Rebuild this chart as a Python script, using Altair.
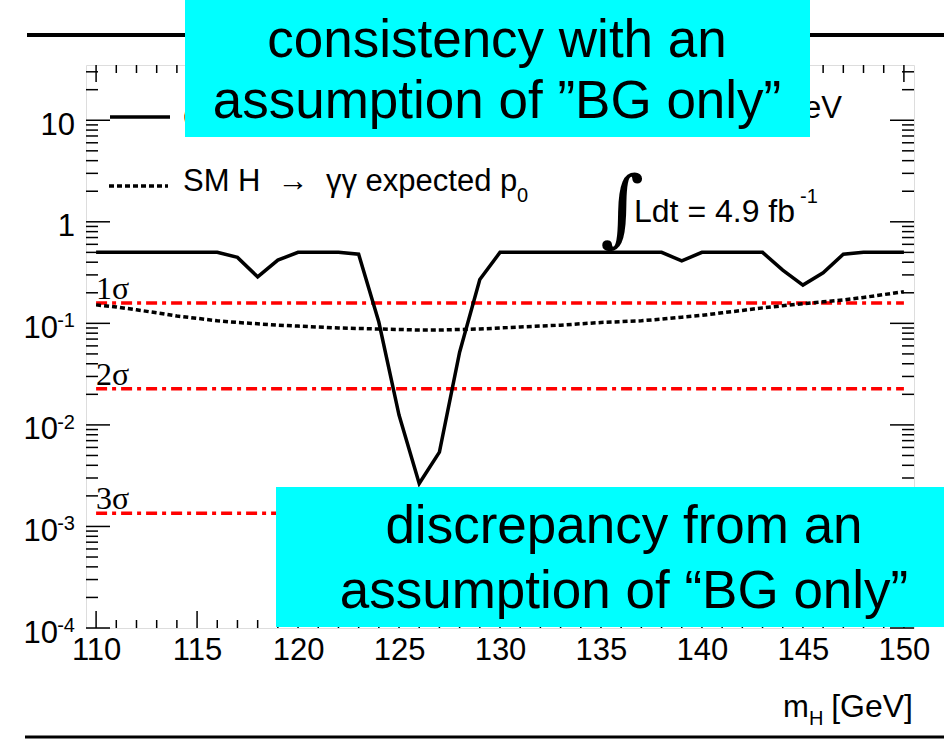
import altair as alt
import pandas as pd

# ---------------- data ----------------
mass = [110, 111, 112, 113, 114, 115, 116, 117, 118, 119, 120, 121, 122, 123, 124, 125,
        126, 127, 128, 129, 130, 131, 132, 133, 134, 135, 136, 137, 138, 139, 140, 141,
        142, 143, 144, 145, 146, 147, 148, 149, 150]
observed_p0 = [0.5, 0.5, 0.5, 0.5, 0.5, 0.5, 0.5, 0.446, 0.287, 0.42, 0.5, 0.5, 0.5, 0.48,
               0.103, 0.0125, 0.00265, 0.0054, 0.052, 0.27, 0.5, 0.5, 0.5, 0.5, 0.5, 0.5,
               0.5, 0.5, 0.5, 0.413, 0.5, 0.5, 0.5, 0.5, 0.334, 0.238, 0.315, 0.48, 0.5,
               0.5, 0.5]
expected_p0 = [0.152, 0.145, 0.136, 0.127, 0.118, 0.112, 0.106, 0.102, 0.099, 0.096, 0.094,
               0.092, 0.090, 0.089, 0.088, 0.087, 0.086, 0.086, 0.087, 0.088, 0.090, 0.092,
               0.094, 0.096, 0.099, 0.102, 0.104, 0.106, 0.110, 0.115, 0.120, 0.127, 0.134,
               0.142, 0.149, 0.156, 0.163, 0.170, 0.180, 0.192, 0.205]

sigma_levels = [0.1587, 0.02275, 0.00135]
sigma_labels = ["1σ", "2σ", "3σ"]
sigma_start = [110, 110, 110]
sigma_end = [150, 150, 150]

x_major_ticks = [110, 115, 120, 125, 130, 135, 140, 145, 150]
x_minor_ticks = [111, 112, 113, 114, 116, 117, 118, 119, 121, 122, 123, 124, 126, 127, 128,
                 129, 131, 132, 133, 134, 136, 137, 138, 139, 141, 142, 143, 144, 146, 147,
                 148, 149]
y_major_ticks = [0.0001, 0.001, 0.01, 0.1, 1, 10]
y_minor_ticks = [m * d for d in [0.0001, 0.001, 0.01, 0.1, 1] for m in range(2, 10)] + [20, 30]
y_label_values = [10, 1, 0.1, 0.01, 0.001, 0.0001]
y_label_base = ["10", "1", "10", "10", "10", "10"]
y_label_exp = ["", "", "-1", "-2", "-3", "-4"]

# ---------------- layout ----------------
W, H = 828, 563
FONT = "Liberation Sans"
xs = alt.Scale(domain=[109.5, 150.5], nice=False, zero=False)
ys = alt.Scale(type="log", domain=[0.0001, 35], nice=False)

df = pd.DataFrame({"mass": mass, "obs": observed_p0, "exp": expected_p0})
df_sig = pd.DataFrame({"level": sigma_levels, "label": sigma_labels,
                       "start": sigma_start, "end": sigma_end})
df_xmaj = pd.DataFrame({"v": x_major_ticks})
df_xmin = pd.DataFrame({"v": x_minor_ticks})
df_ymaj = pd.DataFrame({"v": y_major_ticks})
df_ymin = pd.DataFrame({"v": y_minor_ticks})
df_ylab = pd.DataFrame({"v": y_label_values, "base": y_label_base, "exp": y_label_exp})
one = pd.DataFrame({"k": [0]})

xaxis = alt.Axis(values=x_major_ticks, format="d", labelFont=FONT, labelFontSize=31,
                 labelColor="black", ticks=False, domain=False, grid=False, title=None,
                 labelPadding=7)

layers = []

# slide decoration lines
layers.append(alt.Chart(one).mark_rule(color="black", strokeWidth=4).encode(
    x=alt.value(-59), x2=alt.value(858), y=alt.value(-30)))
layers.append(alt.Chart(one).mark_rule(color="black", strokeWidth=3).encode(
    x=alt.value(-61), x2=alt.value(858), y=alt.value(672)))

# sigma lines
layers.append(alt.Chart(df_sig).mark_rule(color="#ff0000", strokeWidth=3.5,
                                          strokeDash=[11, 5, 4, 5]).encode(
    x=alt.X("start:Q", scale=xs, axis=xaxis), x2="end:Q",
    y=alt.Y("level:Q", scale=ys, axis=None)))

# expected and observed
layers.append(alt.Chart(df).mark_line(color="black", strokeWidth=3.5, strokeDash=[5, 3]).encode(
    x=alt.X("mass:Q", scale=xs, axis=xaxis), y=alt.Y("exp:Q", scale=ys, axis=None)))
layers.append(alt.Chart(df).mark_line(color="black", strokeWidth=3.5).encode(
    x=alt.X("mass:Q", scale=xs, axis=xaxis), y=alt.Y("obs:Q", scale=ys, axis=None)))

# ticks inside the frame
def yticks(data, length):
    return [
        alt.Chart(data).mark_rule(color="black", strokeWidth=1.5).encode(
            y=alt.Y("v:Q", scale=ys, axis=None), x=alt.value(0), x2=alt.value(length)),
        alt.Chart(data).mark_rule(color="black", strokeWidth=1.5).encode(
            y=alt.Y("v:Q", scale=ys, axis=None), x=alt.value(W - length), x2=alt.value(W)),
    ]

def xticks(data, length):
    return [
        alt.Chart(data).mark_rule(color="black", strokeWidth=1.5).encode(
            x=alt.X("v:Q", scale=xs, axis=xaxis), y=alt.value(H), y2=alt.value(H - length)),
        alt.Chart(data).mark_rule(color="black", strokeWidth=1.5).encode(
            x=alt.X("v:Q", scale=xs, axis=xaxis), y=alt.value(0), y2=alt.value(length)),
    ]

layers += yticks(df_ymaj, 24) + yticks(df_ymin, 12) + xticks(df_xmaj, 17) + xticks(df_xmin, 8)

# y tick labels
layers.append(alt.Chart(df_ylab).transform_filter("datum.exp == ''").mark_text(
    font=FONT, fontSize=31, align="right", baseline="alphabetic", dy=14.5, color="black").encode(
    y=alt.Y("v:Q", scale=ys, axis=None), x=alt.value(-11), text="base:N"))
layers.append(alt.Chart(df_ylab).transform_filter("datum.exp != ''").mark_text(
    font=FONT, fontSize=31, align="right", baseline="alphabetic", dy=14.5, color="black").encode(
    y=alt.Y("v:Q", scale=ys, axis=None), x=alt.value(-28), text="base:N"))
layers.append(alt.Chart(df_ylab).transform_filter("datum.exp != ''").mark_text(
    font=FONT, fontSize=20, align="right", baseline="alphabetic", dy=4, color="black").encode(
    y=alt.Y("v:Q", scale=ys, axis=None), x=alt.value(-11), text="exp:N"))

# sigma labels
layers.append(alt.Chart(df_sig).mark_text(
    font="Liberation Serif", fontSize=32, align="left", baseline="alphabetic", dy=-4,
    color="black").encode(
    y=alt.Y("level:Q", scale=ys, axis=None), x=alt.value(10), text="label:N"))

# legend
layers.append(alt.Chart(one).mark_rule(color="black", strokeWidth=3.5).encode(
    x=alt.value(24), x2=alt.value(84), y=alt.value(52)))
layers.append(alt.Chart(one).mark_rule(color="black", strokeWidth=3.5, strokeDash=[5, 3]).encode(
    x=alt.value(23), x2=alt.value(82), y=alt.value(121)))

def txt(s, x, y, size=31, align="left", font=FONT):
    return alt.Chart(one).mark_text(text=s, font=font, fontSize=size, align=align,
                                    baseline="alphabetic", color="black").encode(
        x=alt.value(x), y=alt.value(y))

layers.append(txt("Observed p₀", 97, 63))
layers.append(txt("Data 2011, √s = 7 TeV", 756, 53, align="right"))
layers.append(txt("SM H\u00a0\u00a0→\u00a0\u00a0γγ expected p", 97, 126))
layers.append(txt("0", 431, 137, size=20))

# luminosity
layers.append(alt.Chart(one).mark_text(text="∫", font="DejaVu Serif", fontSize=84,
                                       align="center", baseline="middle", color="black").encode(
    x=alt.value(536), y=alt.value(146)))
layers.append(txt("Ldt = 4.9 fb", 548, 157, size=32))
layers.append(txt("-1", 714, 138, size=20))

# x axis title
layers.append(txt("m", 697, 652, size=31))
layers.append(txt("H", 723, 660, size=20))
layers.append(txt("[GeV]", 827, 652, size=32, align="right"))

# cyan boxes
layers.append(alt.Chart(one).mark_rect(color="#00ffff").encode(
    x=alt.value(99), x2=alt.value(724), y=alt.value(-65), y2=alt.value(72)))
layers.append(alt.Chart(one).mark_rect(color="#00ffff").encode(
    x=alt.value(190), x2=alt.value(858), y=alt.value(422), y2=alt.value(562)))

layers.append(txt("consistency with an", 411, -8, size=53, align="center"))
layers.append(txt("assumption of ”BG only”", 411, 53, size=53, align="center"))
layers.append(txt("discrepancy from an", 538, 478, size=53, align="center"))
layers.append(txt("assumption of “BG only”", 538, 543, size=53, align="center"))

chart = alt.layer(*layers).properties(
    width=W, height=H,
    autosize=alt.AutoSizeParams(type="none"),
    padding={"left": 86, "top": 65, "right": 30, "bottom": 111},
).configure_view(stroke="black", strokeWidth=2).configure(background="white")

chart.save("out.html", embed_options={"renderer": "svg", "actions": False})
